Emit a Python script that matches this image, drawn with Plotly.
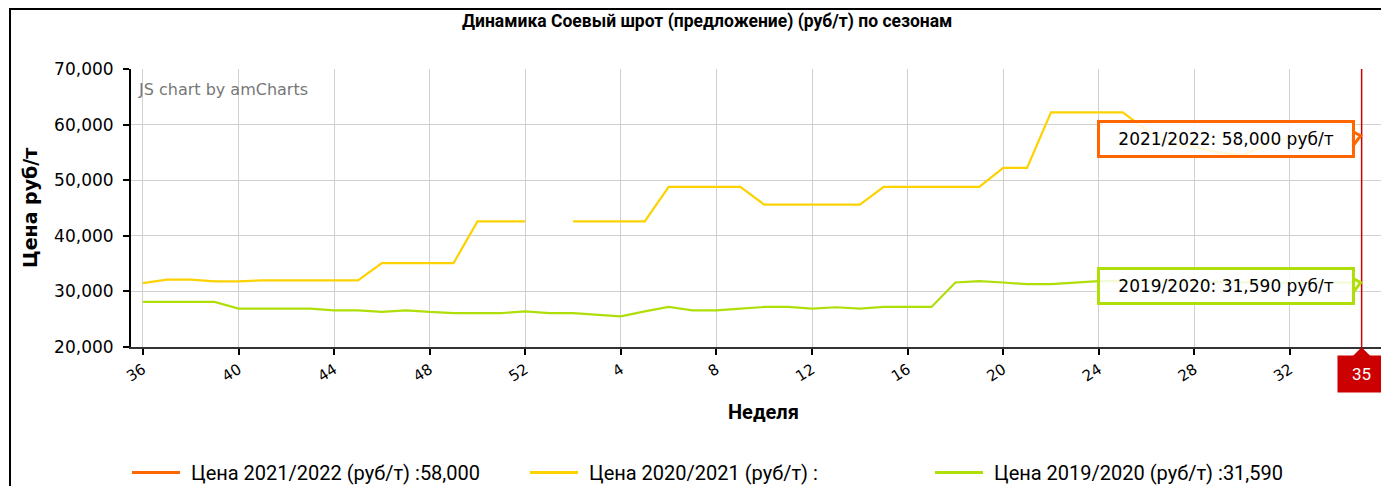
import plotly.graph_objects as go

# ---- data ----
weeks = [36, 37, 38, 39, 40, 41, 42, 43, 44, 45, 46, 47, 48, 49, 50, 51, 52,
         1, 2, 3, 4, 5, 6, 7, 8, 9, 10, 11, 12, 13, 14, 15, 16, 17, 18, 19, 20,
         21, 22, 23, 24, 25, 26, 27, 28, 29, 30, 31, 32, 33, 34, 35, 36]

price_2021_2022 = [None] * 51 + [58000, None]

price_2020_2021 = [31500, 32100, 32100, 31800, 31800, 32000, 32000, 32000, 32000, 32000,
                   35100, 35100, 35100, 35100, 42600, 42600, 42600,
                   None, 42600, 42600, 42600, 42600, 48800, 48800, 48800, 48800,
                   45600, 45600, 45600, 45600, 45600, 48800, 48800, 48800, 48800, 48800,
                   52200, 52200, 62200, 62200, 62200, 62200, 59000, 56500, 56000, 55000,
                   54500, 56300, 57800, 58000, None, None, None]

price_2019_2020 = [28100, 28100, 28100, 28100, 26900, 26900, 26900, 26900, 26600, 26600,
                   26300, 26600, 26300, 26100, 26100, 26100, 26400,
                   26100, 26100, 25800, 25500, 26400, 27200, 26600, 26600, 26900,
                   27200, 27200, 26900, 27150, 26900, 27200, 27200, 27200, 31600, 31850,
                   31600, 31300, 31300, 31600, 31850, 31900, 31800, 31800, 31700, 31700,
                   31600, 31600, 31600, 31590, 31590, 31590, None]

series_names = ["2021/2022", "2020/2021", "2019/2020"]
series_colors = ["#FF6600", "#FCD202", "#B0DE09"]
cursor_week_index = 51
tick_step = 4

title_text = "Динамика Соевый шрот (предложение) (руб/т) по сезонам"
y_title = "Цена руб/т"
x_title = "Неделя"
unit = "руб/т"

# ---- geometry (page body has an 8px margin) ----
OFF = 8
W, H = 1389 - OFF, 486 - OFF
L, R = 131 - OFF, 3
T = 69.3 - OFF
plot_h = 277.4
B = H - T - plot_h
plot_w = W - L - R
x_min, x_max = -0.5, 52.02
y_min, y_max = 20000, 70000
ux = plot_w / (x_max - x_min)      # px per x unit
uy = plot_h / (y_max - y_min)      # px per y unit

def py(px):  # absolute pixel y -> paper y
    return (T + plot_h - (px - OFF)) / plot_h

def pxp(px):  # absolute pixel x -> paper x
    return (px - OFF - L) / plot_w

# ---- figure ----
x_idx = list(range(len(weeks)))
series = [price_2021_2022, price_2020_2021, price_2019_2020]

def fmt(v):
    return "" if v is None else f"{v:,}"

fig = go.Figure()
for name, col, vals in zip(series_names, series_colors, series):
    fig.add_trace(go.Scatter(
        x=x_idx, y=vals, mode="lines",
        line=dict(color=col, width=2.2),
        connectgaps=False,
        name=f"Цена {name} ({unit}) :{fmt(vals[cursor_week_index])}",
        hoverinfo="skip", showlegend=False,
    ))

tickvals = x_idx[::tick_step]
ticktext = [str(weeks[i]) for i in tickvals]

fig.update_layout(
    template="none",
    width=W, height=H,
    margin=dict(l=L, r=R, t=T, b=B, autoexpand=False),
    paper_bgcolor="white", plot_bgcolor="white",
    font=dict(family="DejaVu Sans, Verdana, sans-serif", color="#000000"),
    showlegend=False,
    hovermode=False,
)

fig.update_xaxes(
    range=[x_min, x_max], automargin=False,
    tickmode="array", tickvals=tickvals, ticktext=ticktext,
    tickangle=-32, tickfont=dict(size=15, family="DejaVu Sans, Verdana, sans-serif", color="#000000"),
    showgrid=True, gridcolor="#d0d0d0", gridwidth=1,
    showline=True, linecolor="#333333", linewidth=2,
    ticks="outside", ticklen=6, tickcolor="#000000", tickwidth=2,
    zeroline=False,
)
fig.update_yaxes(
    range=[y_min, y_max], dtick=10000, tickformat=",", automargin=False,
    tickfont=dict(size=17, family="DejaVu Sans, Verdana, sans-serif", color="#000000"),
    showgrid=True, gridcolor="#d0d0d0", gridwidth=1,
    showline=True, linecolor="#000000", linewidth=2,
    ticks="outside", ticklen=6, tickcolor="#000000", tickwidth=2,
    ticklabelstandoff=6,
    zeroline=False,
)

annotations = [
    dict(text=title_text, xref="paper", yref="paper", x=pxp(707), y=py(22),
         showarrow=False, xanchor="center", yanchor="middle",
         font=dict(family="Roboto, sans-serif", size=17.5, color="#000000", weight="bold")),
    dict(text="JS chart by amCharts", xref="paper", yref="paper", x=pxp(136), y=py(90),
         showarrow=False, xanchor="left", yanchor="middle",
         font=dict(family="DejaVu Sans, Verdana, sans-serif", size=16, color="#777777")),
    dict(text=f"<b>{y_title}</b>", xref="paper", yref="paper", x=pxp(30), y=py(208),
         showarrow=False, textangle=-90, xanchor="center", yanchor="middle",
         font=dict(family="DejaVu Sans, Verdana, sans-serif", size=19, color="#000000")),
    dict(text=f"<b>{x_title}</b>", xref="paper", yref="paper", x=pxp(763), y=py(412),
         showarrow=False, xanchor="center", yanchor="middle",
         font=dict(family="Roboto, sans-serif", size=20, color="#000000")),
    dict(text=str(weeks[cursor_week_index]), xref="x", yref="paper", x=cursor_week_index,
         y=py(374), showarrow=False, xanchor="center", yanchor="middle",
         bgcolor="#CC0000", borderpad=8, width=31, height=20,
         font=dict(family="Roboto, sans-serif", size=17, color="#FFFFFF")),
]

shapes = [
    # cursor line
    dict(type="line", xref="x", yref="paper", x0=cursor_week_index, x1=cursor_week_index,
         y0=0, y1=1, line=dict(color="#CC0000", width=1.5)),
    # cursor label pointer
    dict(type="path", xref="x", yref="paper",
         path=f"M {cursor_week_index - 0.42},{py(357)} L {cursor_week_index},{py(347)} L {cursor_week_index + 0.42},{py(357)} Z",
         fillcolor="#CC0000", line=dict(color="#CC0000", width=0)),
    # outer frame
    dict(type="rect", xref="paper", yref="paper", x0=pxp(10), x1=pxp(1500), y0=py(600), y1=py(9.5),
         line=dict(color="#000000", width=2), fillcolor="rgba(0,0,0,0)", layer="below"),
]

# tooltips at the cursor
for name, col, vals in zip(series_names, series_colors, series):
    v = vals[cursor_week_index]
    if v is None:
        continue
    annotations.append(dict(
        text=f"{name}: {v:,} {unit}", xref="x", yref="y",
        x=cursor_week_index, y=v, showarrow=False,
        xanchor="right", yanchor="middle", xshift=-7, yshift=-3,
        bgcolor="rgba(255,255,255,0.85)", bordercolor=col, borderwidth=3,
        borderpad=6, width=240, height=20,
        font=dict(family="DejaVu Sans, Verdana, sans-serif", size=17, color="#000000"),
    ))
    xr = cursor_week_index - 8.5 / ux
    xt = cursor_week_index - 1 / ux
    yc = v - 3 / uy
    dy = 7 / uy
    shapes.append(dict(
        type="path", xref="x", yref="y",
        path=f"M {xr},{yc + dy} L {xt},{v} L {xr},{yc - dy} Z",
        fillcolor="white", line=dict(color=col, width=3), layer="above"))

# legend (drawn below the plot)
legend_x = [132, 530, 935]
legend_y = 472
for name, col, vals, lx in zip(series_names, series_colors, series, legend_x):
    shapes.append(dict(type="line", xref="paper", yref="paper",
                       x0=pxp(lx), x1=pxp(lx + 48), y0=py(legend_y), y1=py(legend_y),
                       line=dict(color=col, width=3)))
    annotations.append(dict(
        text=f"Цена {name} ({unit}) :{fmt(vals[cursor_week_index])}",
        xref="paper", yref="paper", x=pxp(lx + 57), y=py(legend_y),
        showarrow=False, xanchor="left", yanchor="middle",
        font=dict(family="Roboto, sans-serif", size=20, color="#000000")))

fig.update_layout(annotations=annotations, shapes=shapes)

fig.write_html("out.html")
